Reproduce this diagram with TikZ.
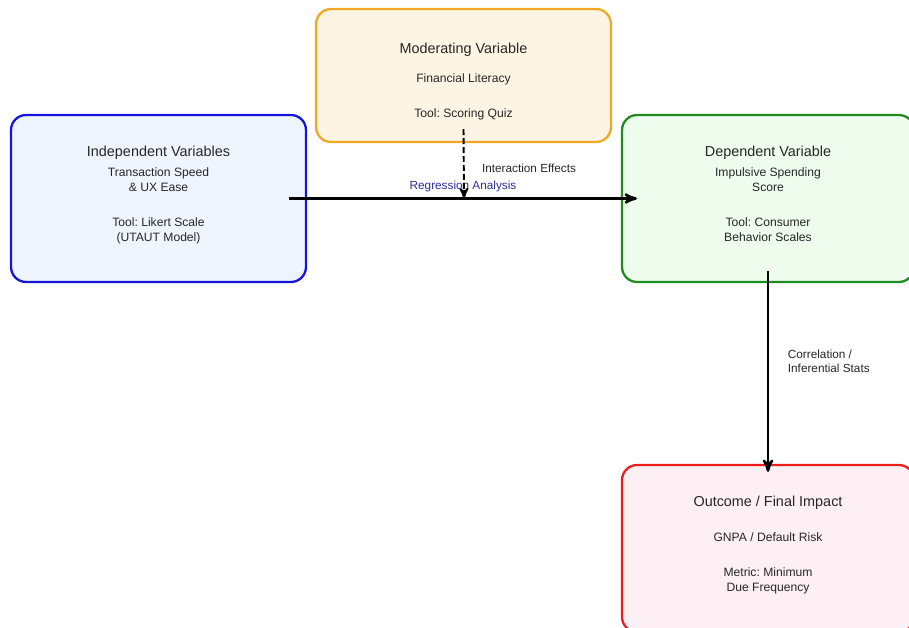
\documentclass[tikz,border=0pt]{standalone}
\usepackage{fontspec}
\setmainfont{Liberation Sans}
\usetikzlibrary{arrows}

\definecolor{ivblue}{HTML}{1414DC}
\definecolor{ivfill}{HTML}{EEF5FF}
\definecolor{mvorange}{HTML}{F2A822}
\definecolor{mvfill}{HTML}{FDF4E3}
\definecolor{dvgreen}{HTML}{1E8C1E}
\definecolor{dvfill}{HTML}{EEFCEE}
\definecolor{ocred}{HTML}{EE1C1C}
\definecolor{ocfill}{HTML}{FDEFF3}
\definecolor{regblue}{HTML}{2E2E9A}

\frenchspacing
\newcommand{\boxtitle}[1]{{\fontsize{8.2}{10}\selectfont #1}}
\newcommand{\lift}{\rule[-5.2pt]{0pt}{0pt}}

\begin{document}
\begin{tikzpicture}[x=0.02cm,y=-0.02cm,>=stealth',auto,
  every node/.style={text=black!85,font=\fontsize{6.9}{8.5}\selectfont},
  varbox/.style={draw,rounded corners=0.3cm,line width=1.3pt,align=center,inner sep=0pt,
    minimum width=5.9cm,minimum height=3.34cm},
  arrlabel/.style={font=\fontsize{6.7}{8.3}\selectfont}]

\useasboundingbox (0,0) rectangle (909,628);

\node[varbox,draw=ivblue,fill=ivfill] (iv) at (158.5,198.5)
  {\boxtitle{Independent Variables}\\[2.8pt] Transaction Speed\\ \& UX Ease\\[11.3pt] Tool: Likert Scale\\ (UTAUT Model)\lift};
\node[varbox,draw=mvorange,fill=mvfill,minimum height=2.66cm] (mv) at (463.5,75.5)
  {\rule{0pt}{13pt}\boxtitle{Moderating Variable}\\[7.9pt] Financial Literacy\\[11.3pt] Tool: Scoring Quiz};
\node[varbox,draw=dvgreen,fill=dvfill,minimum width=5.84cm] (dv) at (768,198.5)
  {\boxtitle{Dependent Variable}\\[2.8pt] Impulsive Spending\\ Score\\[11.3pt] Tool: Consumer\\ Behavior Scales\lift};
\node[varbox,draw=ocred,fill=ocfill,minimum width=5.84cm] (oc) at (768,548.5)
  {\boxtitle{Outcome / Final Impact}\\[11.3pt] GNPA / Default Risk\\[11.3pt] Metric: Minimum\\ Due Frequency\lift};

\coordinate (xm) at (464,198.5);

% main path
\draw[->,line width=1.4pt] ([xshift=-0.36cm]iv.east) -- node[arrlabel,above=-0.5pt,text=regblue] (ra) {Regression Analysis} ([xshift=0.32cm]dv.west);
% moderator
\draw[->,dashed,dash pattern=on 3.4pt off 1.7pt,line width=1.1pt] ([yshift=0.28cm]mv.south) -- node[arrlabel,right=6.5pt,pos=0.57] (ie) {Interaction Effects} (xm);
% outcome
\draw[->,line width=1.4pt] ([yshift=0.24cm]dv.south) -- node[arrlabel,right=7.3pt,pos=0.45,align=left] (ci) {Correlation /\\Inferential Stats} ([yshift=-0.16cm]oc.north);

\end{tikzpicture}
\end{document}
